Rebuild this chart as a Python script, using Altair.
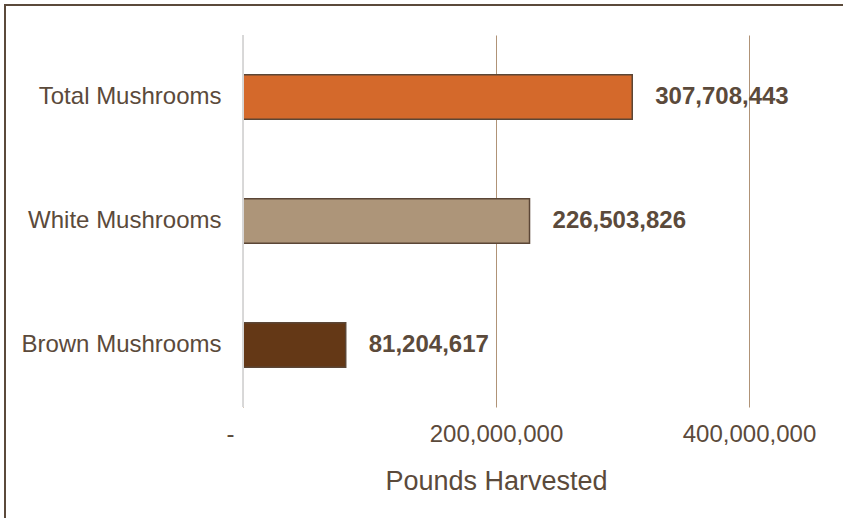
import altair as alt
import pandas as pd

categories = ["Total Mushrooms", "White Mushrooms", "Brown Mushrooms"]
values = [307708443, 226503826, 81204617]
labels = ["307,708,443", "226,503,826", "81,204,617"]
colors = ["#D4692B", "#AD9579", "#643816"]
tick_values = [0, 200000000, 400000000]

df = pd.DataFrame({"category": categories, "value": values, "label": labels, "color": colors})

TEXT = "#5B4A3B"
FONT = "Liberation Sans"
W, H = 506, 372
PL, PT = 243, 35

y_enc = alt.Y("category:N", sort=categories, title=None,
              scale=alt.Scale(paddingInner=0.64, paddingOuter=0.32),
              axis=alt.Axis(labelFontSize=24, labelColor=TEXT, labelFont=FONT, labelLimit=0,
                            ticks=False, domain=False, labelPadding=22, grid=False))
x_enc = alt.X("value:Q", title="Pounds Harvested",
              scale=alt.Scale(domain=[0, 400000000], nice=False),
              axis=alt.Axis(values=tick_values,
                            labelExpr="datum.value == 0 ? '-' : format(datum.value, ',')",
                            labelAlign={"condition": {"test": "datum.value == 0", "value": "right"}, "value": "center"},
                            labelOffset={"condition": {"test": "datum.value == 0", "value": -9}, "value": 0},
                            labelFontSize=24, labelColor=TEXT, labelFont=FONT,
                            titleFontSize=27, titleColor=TEXT, titleFont=FONT, titleFontWeight="normal",
                            titlePadding=22, labelPadding=15, ticks=False, domain=False,
                            grid=True, gridColor="#B09377", gridWidth=1))

base = alt.Chart(df)

zero_rule = base.mark_rule(color="#D9D9D9", strokeWidth=1.5).encode(
    x=alt.datum(0), y=alt.value(0), y2=alt.value(H))

bars = base.mark_bar(stroke="#5B4636", strokeWidth=1.5).encode(
    x=x_enc, y=y_enc, color=alt.Color("color:N", scale=None))

text = base.mark_text(align="left", dx=23, fontSize=24, fontWeight="bold", color=TEXT, font=FONT).encode(
    x="value:Q", y=alt.Y("category:N", sort=categories), text="label:N")

border_top = base.mark_rule(color="#5B4A3B", strokeWidth=2).encode(
    x=alt.value(-PL + 4), x2=alt.value(843 - PL), y=alt.value(-PT + 5))
border_left = base.mark_rule(color="#5B4A3B", strokeWidth=2).encode(
    x=alt.value(-PL + 5), y=alt.value(-PT + 4), y2=alt.value(518 - PT))

chart = alt.layer(bars, zero_rule, text, border_top, border_left).properties(
    width=W, height=H,
    autosize=alt.AutoSizeParams(type="none"),
    padding={"left": PL, "top": PT, "right": 843 - PL - W, "bottom": 518 - PT - H},
    background="white",
).configure_view(stroke=None)

chart.save("out.html", embed_options={"renderer": "svg", "actions": False})
